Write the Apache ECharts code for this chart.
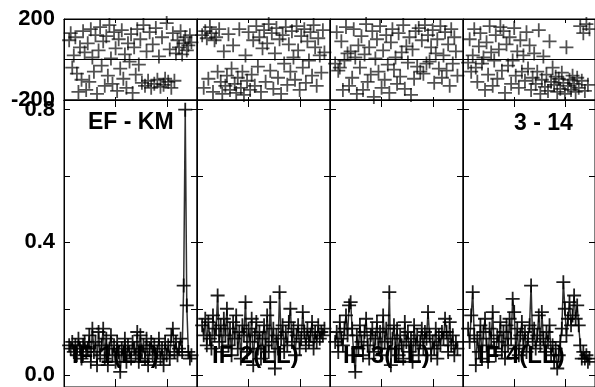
<!DOCTYPE html>
<html>
<head>
<meta charset="utf-8">
<script src="https://cdn.jsdelivr.net/npm/echarts@6/dist/echarts.min.js"></script>
<style>
html,body{margin:0;padding:0;background:#fff;}
#chart{width:595px;height:387px;}
</style>
</head>
<body>
<div id="chart"></div>
<script>
// ---------------- DATA ----------------
var panelLabels = ['IF 1(LL)', 'IF 2(LL)', 'IF 3(LL)', 'IF 4(LL)'];
var titleLeft = 'EF - KM';
var titleRight = '3 - 14';

// sample times (hours, relative within each panel)
var times = [0.10,0.13,0.16,0.19,0.22,0.25,0.28,0.31,0.34,0.37,
             0.40,0.43,0.46,0.49,0.52,0.55,0.58,0.61,0.64,0.67,
             0.70,0.73,0.76,0.79,0.82,0.85,0.88,0.91,0.94,0.97,
             1.00,1.03,1.06,1.09,1.12,1.15,1.18,1.21,1.24,1.27,
             1.30,1.33,1.36,1.39,1.42,1.45,1.48,1.51,1.54,1.57,
             1.60,1.63,1.66,1.69,1.72,1.75,1.78,1.81,1.84,1.87,
             1.90,1.93,1.96,1.99,2.02,2.05,2.08,2.11,2.14,2.17,
             2.20,2.23,2.26,2.29,2.32,2.35,2.38,2.41,2.44,2.47];

// amplitudes (bottom row)
var amp1 = [0.09,0.08,0.10,0.07,0.09,0.06,0.11,0.08,0.05,0.09,
            0.10,0.07,0.08,0.12,0.04,0.14,0.07,0.10,0.03,0.13,
            0.06,0.09,0.14,0.05,0.11,0.03,0.08,0.12,0.06,0.09,
            0.04,0.10,0.07,0.01,0.08,0.06,0.11,0.04,0.09,0.07,
            0.05,0.10,0.08,0.06,0.13,0.04,0.12,0.07,0.09,0.05,
            0.11,0.03,0.08,0.10,0.06,0.09,0.04,0.07,0.11,0.05,
            0.08,0.03,0.10,0.06,0.09,0.05,0.12,0.14,0.07,0.10,
            0.06,0.08,0.11,0.07,0.27,0.80,0.21,0.07,0.05,0.06];
var amp2 = [0.15,0.12,0.17,0.09,0.16,0.11,0.08,0.18,0.12,0.14,
            0.24,0.10,0.15,0.07,0.17,0.12,0.20,0.09,0.14,0.06,
            0.16,0.11,0.18,0.08,0.13,0.05,0.15,0.12,0.22,0.07,
            0.14,0.10,0.17,0.03,0.12,0.16,0.08,0.13,0.05,0.11,
            0.15,0.09,0.18,0.07,0.22,0.10,0.14,0.02,0.12,0.08,
            0.25,0.11,0.15,0.07,0.13,0.09,0.16,0.20,0.10,0.14,
            0.06,0.12,0.15,0.08,0.11,0.19,0.13,0.09,0.14,0.10,
            0.12,0.16,0.08,0.13,0.10,0.15,0.11,0.13,0.12,0.14];
var amp3 = [0.10,0.13,0.07,0.16,0.11,0.09,0.14,0.18,0.12,0.21,
            0.22,0.14,0.06,0.01,0.12,0.08,0.15,0.10,0.06,0.13,
            0.17,0.09,0.05,0.12,0.14,0.07,0.11,0.16,0.08,0.13,
            0.06,0.18,0.10,0.14,0.08,0.25,0.03,0.11,0.15,0.08,
            0.14,0.06,0.12,0.09,0.05,0.16,0.10,0.13,0.07,0.11,
            0.04,0.15,0.09,0.12,0.06,0.10,0.14,0.08,0.13,0.11,
            0.19,0.12,0.06,0.10,0.08,0.14,0.05,0.12,0.09,0.13,
            0.11,0.17,0.13,0.07,0.16,0.09,0.12,0.06,0.10,0.08];
var amp4 = [0.14,0.10,0.18,0.25,0.12,0.03,0.11,0.07,0.15,0.05,
            0.13,0.17,0.09,0.04,0.14,0.11,0.19,0.08,0.06,0.12,
            0.10,0.16,0.07,0.13,0.05,0.15,0.09,0.17,0.11,0.23,
            0.19,0.08,0.14,0.06,0.12,0.16,0.09,0.13,0.07,0.11,
            0.15,0.27,0.10,0.14,0.08,0.12,0.18,0.09,0.19,0.11,
            0.07,0.13,0.10,0.15,0.06,0.09,0.04,0.08,0.02,0.06,
            0.10,0.14,0.28,0.20,0.12,0.17,0.22,0.15,0.18,0.24,
            0.17,0.21,0.15,0.09,0.05,0.07,0.05,0.06,0.04,0.05];

// phases in degrees (top row)
var ph1 = [95,130,-40,20,110,-70,-160,60,-100,140,
           35,-150,80,-110,150,10,-60,120,-170,45,
           160,-30,90,-130,115,-80,170,5,-120,135,
           55,-155,100,-45,145,-95,25,-140,80,-10,
           125,-165,60,-75,150,-25,100,-115,170,-130,
           40,-105,135,-140,75,-120,155,-100,15,-135,
           110,-125,-95,180,-110,50,-140,130,-105,30,
           95,60,140,25,80,110,45,70,120,85];
var ph2 = [120,-140,140,105,-95,160,130,-160,95,110,
           -60,150,-110,-170,40,-130,-80,125,-150,-45,
           70,-120,-165,-90,150,-140,-60,-175,20,-105,
           135,-150,-75,95,-130,165,-35,110,-160,55,
           145,-110,80,175,-55,130,-145,30,155,-90,
           100,-170,120,-20,160,-125,75,-60,140,10,
           -100,165,45,-150,115,-40,150,-115,90,-5,
           135,-80,170,60,-130,105,20,-65,145,35];
var ph3 = [-20,135,-55,-40,90,-150,-5,160,30,-130,
           40,-90,150,10,-170,70,-40,115,-150,25,
           175,-110,60,-75,140,-185,5,100,-60,165,
           -140,45,-100,120,-25,-165,85,150,-50,10,
           -120,130,-85,35,170,-145,65,-15,110,-175,
           50,-95,140,-35,155,-60,95,-70,170,-20,
           120,-10,60,145,-115,30,100,-45,165,-90,
           20,135,-55,75,-130,150,-20,110,40,-80];
var ph4 = [-15,100,-60,20,150,-40,-110,65,130,-20,
           10,-150,85,-75,165,35,-130,-5,120,-95,
           50,160,-55,140,-165,75,-30,110,-120,-5,
           155,-80,40,-140,95,-60,20,-105,135,-45,
           70,-150,-90,30,-120,-60,145,-170,-100,15,
           -135,-75,-155,90,-110,-40,-125,-85,-160,-95,
           -145,-65,-115,-170,60,-130,-100,-150,-80,-120,
           -160,-90,-140,165,-105,130,-155,175,-125,150];

var ampTickValues = [0, 0.2, 0.4, 0.6, 0.8];
var ampLabelValues = [0, 0.4, 0.8];
var phaseLabelValues = [-200, 200];

// ---------------- LAYOUT ----------------
var amps = [amp1, amp2, amp3, amp4];
var phs = [ph1, ph2, ph3, ph4];
var panelLeft = [64, 197, 330, 463];
var panelW = 133;
var labelX = [72, 212, 343, 478];
var xMax = 2.578;
var ampMin = -0.0357, ampMax = 0.829;

var FONT = "'Liberation Sans', Arial, Helvetica, sans-serif";
var plus = 'path://M0,7 L14,7 M7,0 L7,14';

var grids = [], xAxes = [], yAxes = [], series = [];
function pair(t, v) { return t.map(function (x, k) { return [x, v[k]]; }); }

for (var i = 0; i < 4; i++) {
  grids.push({ left: panelLeft[i], top: 19, width: panelW, height: 81,
               show: true, borderColor: '#000', borderWidth: 1, backgroundColor: 'transparent' });
  grids.push({ left: panelLeft[i], top: 100, width: panelW, height: 291,
               show: true, borderColor: '#000', borderWidth: 1, backgroundColor: 'transparent' });
}

function xAx(grid, pos, len) {
  return {
    type: 'value', gridIndex: grid, position: pos, min: 0, max: xMax, interval: 1,
    axisLine: { show: true, onZero: false, lineStyle: { color: '#000', width: 1 } },
    axisTick: { show: true, inside: true, length: len, lineStyle: { color: '#000', width: 1 } },
    axisLabel: { show: false }, splitLine: { show: false }
  };
}
var labelStyle = { color: '#000', fontSize: 22, fontWeight: 'bold', fontFamily: FONT, margin: 9 };

for (var i = 0; i < 4; i++) {
  var gTop = 2 * i, gBot = 2 * i + 1;
  var xTopB = xAxes.length; xAxes.push(xAx(gTop, 'bottom', 3));
  xAxes.push(xAx(gTop, 'top', 4));
  var xBotB = xAxes.length; xAxes.push(xAx(gBot, 'bottom', 8));
  xAxes.push(xAx(gBot, 'top', 7));

  var yTop = yAxes.length;
  yAxes.push({
    type: 'value', gridIndex: gTop, min: -200, max: 200, interval: 200,
    axisLine: { show: true, onZero: false, lineStyle: { color: '#000' } },
    axisTick: { show: false },
    axisLabel: Object.assign({ show: i === 0, customValues: phaseLabelValues,
      formatter: function (v) { return String(v); } }, labelStyle),
    splitLine: { show: true, lineStyle: { color: '#000', width: 1 } }
  });
  var yBot = yAxes.length;
  yAxes.push({
    type: 'value', gridIndex: gBot, min: ampMin, max: ampMax, position: 'left',
    axisLine: { show: true, onZero: false, lineStyle: { color: '#000' } },
    axisTick: { show: true, inside: true, length: 6, customValues: ampTickValues, lineStyle: { color: '#000' } },
    axisLabel: Object.assign({ show: i === 0, customValues: ampLabelValues,
      formatter: function (v) { return Number(v).toFixed(1); } }, labelStyle),
    splitLine: { show: false }
  });
  yAxes.push({
    type: 'value', gridIndex: gBot, min: ampMin, max: ampMax, position: 'right',
    axisLine: { show: true, onZero: false, lineStyle: { color: '#000' } },
    axisTick: { show: true, inside: true, length: 6, customValues: ampTickValues, lineStyle: { color: '#000' } },
    axisLabel: { show: false }, splitLine: { show: false }
  });

  series.push({
    type: 'scatter', xAxisIndex: xTopB, yAxisIndex: yTop,
    data: pair(times, phs[i]), symbol: plus, symbolSize: 14,
    itemStyle: { color: 'transparent', borderColor: 'rgba(0,0,0,0.85)', borderWidth: 1.8 },
    emphasis: { disabled: true }, silent: true, animation: false
  });
  series.push({
    type: 'line', xAxisIndex: xBotB, yAxisIndex: yBot,
    data: pair(times, amps[i]), symbol: plus, symbolSize: 14, showSymbol: true,
    lineStyle: { color: 'rgba(25,25,25,0.9)', width: 1.5 },
    itemStyle: { color: 'transparent', borderColor: 'rgba(0,0,0,0.88)', borderWidth: 1.8 },
    emphasis: { disabled: true }, silent: true, animation: false, z: 3
  });
}

var graphics = [
  { type: 'text', left: 88, top: 111, z: 10,
    style: { text: titleLeft, font: 'bold 23px ' + FONT, fill: '#000' } },
  { type: 'text', left: 514, top: 112, z: 10,
    style: { text: titleRight, font: 'bold 23px ' + FONT, fill: '#000' } }
];
for (var i = 0; i < 4; i++) {
  graphics.push({ type: 'text', left: labelX[i], top: 344, z: 10,
    style: { text: panelLabels[i], font: 'bold 24px ' + FONT, fill: '#000' } });
}

var chart = echarts.init(document.getElementById('chart'), null, { renderer: 'canvas' });
chart.setOption({
  animation: false,
  backgroundColor: '#fff',
  grid: grids, xAxis: xAxes, yAxis: yAxes, series: series, graphic: graphics
});
</script>
</body>
</html>
